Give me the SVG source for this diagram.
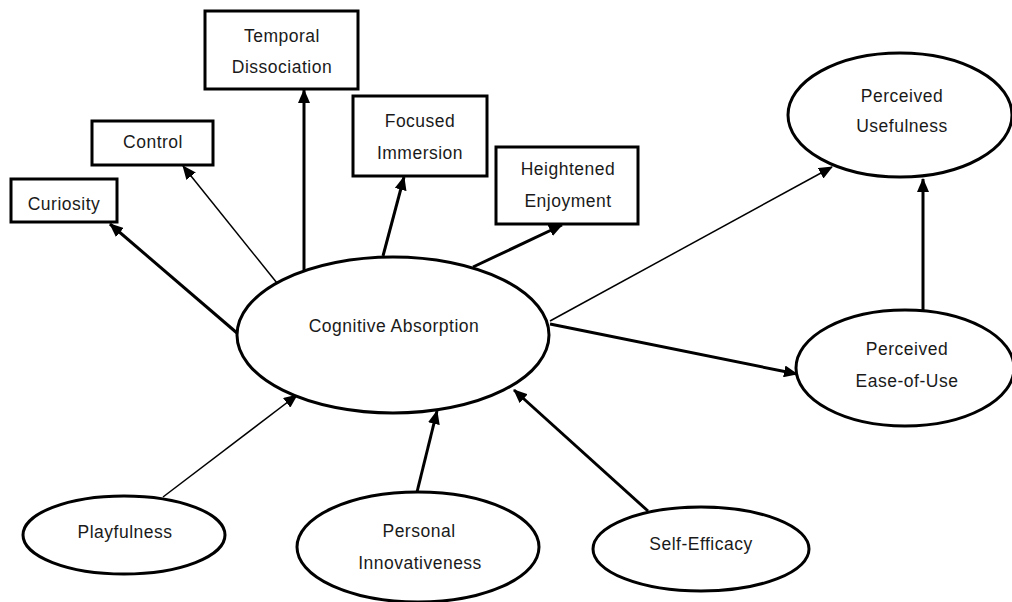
<svg xmlns="http://www.w3.org/2000/svg" width="1012" height="602" viewBox="0 0 1012 602">
<style>
.box{fill:#fff;stroke:#000;stroke-width:3}
.ell{fill:#fff;stroke:#000;stroke-width:3}
.lbl{font-family:"Liberation Sans",Arial,sans-serif;font-size:17.5px;fill:#1a1a1a;text-anchor:middle;letter-spacing:0.5px}
.thick{stroke:#000;stroke-width:3;fill:none;marker-end:url(#ah)}
.thin{stroke:#000;stroke-width:1.5;fill:none;marker-end:url(#ah)}
</style>
<defs>
<marker id="ah" markerUnits="userSpaceOnUse" markerWidth="14" markerHeight="12" viewBox="0 0 14 12" refX="13" refY="6" orient="auto">
<path d="M0,0 L14,6 L0,12 z" fill="#000"/>
</marker>
</defs>
<rect width="1012" height="602" fill="#fff"/>
<g id="connectors">
<line class="thick" x1="237" y1="333" x2="110" y2="224"/>
<line class="thin" x1="277" y1="283" x2="183" y2="166"/>
<line class="thick" x1="304" y1="270" x2="304" y2="90"/>
<line class="thick" x1="383" y1="256" x2="404" y2="177"/>
<line class="thick" x1="473" y1="267" x2="562" y2="225"/>
<line class="thin" x1="550" y1="321" x2="832" y2="167"/>
<line class="thick" x1="550" y1="324" x2="797" y2="374"/>
<line class="thick" x1="923" y1="311" x2="923" y2="179"/>
<line class="thin" x1="163" y1="497" x2="297" y2="395"/>
<line class="thick" x1="417" y1="492" x2="437" y2="411"/>
<line class="thick" x1="648" y1="511" x2="514" y2="390"/>
</g>
<g id="temporal">
<rect class="box" x="205" y="11" width="153" height="78"/>
<text class="lbl" x="282" y="42">Temporal</text>
<text class="lbl" x="282" y="73">Dissociation</text>
</g>
<g id="control">
<rect class="box" x="92" y="121" width="121" height="44"/>
<text class="lbl" x="153" y="148">Control</text>
</g>
<g id="curiosity">
<rect class="box" x="11" y="179" width="106" height="43"/>
<text class="lbl" x="64" y="210">Curiosity</text>
</g>
<g id="focused">
<rect class="box" x="353" y="96" width="134" height="80"/>
<text class="lbl" x="420" y="127">Focused</text>
<text class="lbl" x="420" y="159">Immersion</text>
</g>
<g id="heightened">
<rect class="box" x="496" y="147" width="142" height="77"/>
<text class="lbl" x="568" y="175">Heightened</text>
<text class="lbl" x="568" y="207">Enjoyment</text>
</g>
<g id="cognitive">
<ellipse class="ell" cx="393" cy="335" rx="156" ry="78"/>
<text class="lbl" x="394" y="332">Cognitive Absorption</text>
</g>
<g id="usefulness">
<ellipse class="ell" cx="900" cy="115" rx="112" ry="62"/>
<text class="lbl" x="902" y="102">Perceived</text>
<text class="lbl" x="902" y="132">Usefulness</text>
</g>
<g id="ease">
<ellipse class="ell" cx="905" cy="368" rx="109" ry="58"/>
<text class="lbl" x="907" y="355">Perceived</text>
<text class="lbl" x="907" y="387">Ease-of-Use</text>
</g>
<g id="playfulness">
<ellipse class="ell" cx="124" cy="535" rx="101" ry="39"/>
<text class="lbl" x="125" y="538">Playfulness</text>
</g>
<g id="innovativeness">
<ellipse class="ell" cx="418" cy="547" rx="121" ry="55"/>
<text class="lbl" x="419" y="537">Personal</text>
<text class="lbl" x="420" y="569">Innovativeness</text>
</g>
<g id="selfefficacy">
<ellipse class="ell" cx="701" cy="549" rx="108" ry="42"/>
<text class="lbl" x="701" y="550">Self-Efficacy</text>
</g>
</svg>
